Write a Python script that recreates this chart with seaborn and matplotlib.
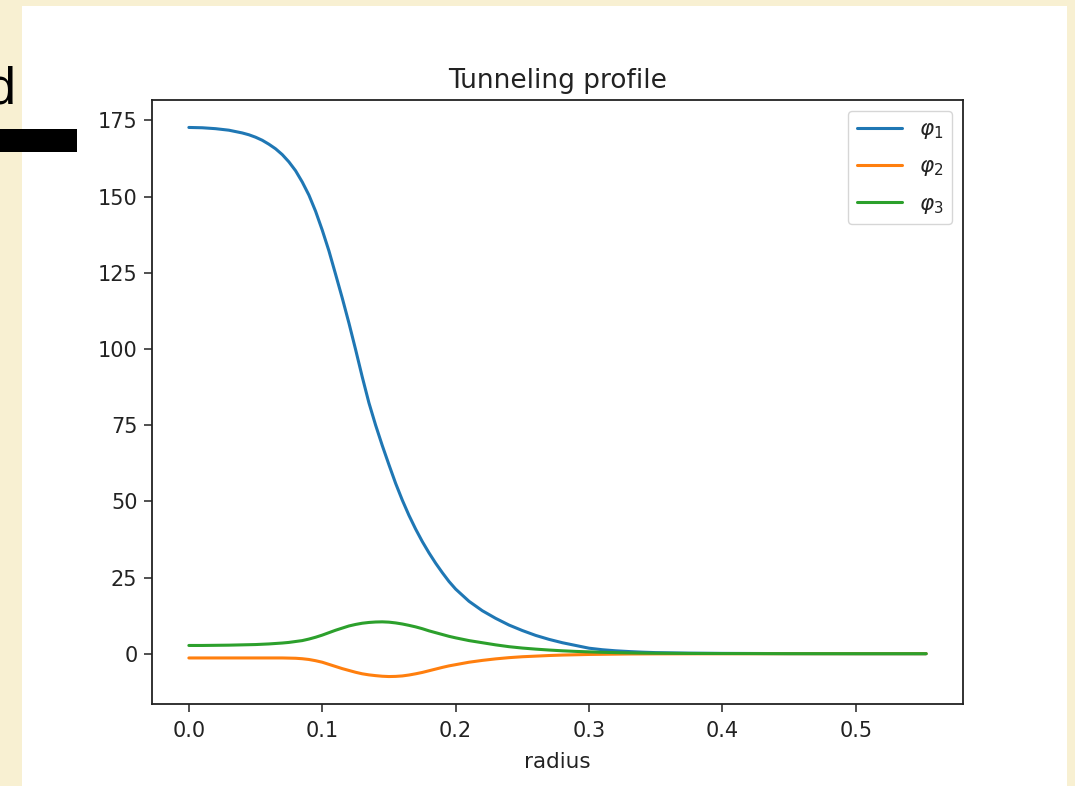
import numpy as np
import pandas as pd
import matplotlib
matplotlib.use("Agg")
import matplotlib.pyplot as plt
from matplotlib.patches import Rectangle
import seaborn as sns

# Radial grid and field profiles of the tunneling solution
radius = [0.00, 0.01, 0.02, 0.03, 0.04,
          0.045, 0.05, 0.055, 0.06, 0.065, 0.07, 0.075, 0.08, 0.085, 0.09,
          0.095, 0.10, 0.105, 0.11, 0.115, 0.12, 0.125, 0.13, 0.135, 0.14,
          0.145, 0.15, 0.155, 0.16, 0.165, 0.17, 0.175, 0.18, 0.185, 0.19, 0.195,
          0.20, 0.21, 0.22, 0.23, 0.24, 0.25, 0.26, 0.27, 0.28, 0.29,
          0.30, 0.31, 0.32, 0.33, 0.34, 0.35,
          0.375, 0.40, 0.45, 0.50, 0.55, 0.5527]

phi1 = [172.7, 172.6, 172.3, 171.8, 170.9,
        170.3, 169.5, 168.5, 167.2, 165.7, 163.8, 161.4, 158.5, 154.8, 150.5,
        145.2, 139.0, 132.2, 124.5, 116.7, 108.5, 99.8, 90.8, 82.3, 75.0,
        68.3, 62.0, 55.9, 50.4, 45.4, 40.9, 36.8, 33.1, 29.7, 26.6, 23.7,
        21.2, 17.2, 14.1, 11.6, 9.4, 7.6, 6.0, 4.7, 3.6, 2.7,
        1.8, 1.3, 0.95, 0.7, 0.5, 0.35,
        0.18, 0.1, 0.03, 0.01, 0.0, 0.0]

phi2 = [-1.4, -1.4, -1.4, -1.4, -1.4,
        -1.4, -1.4, -1.4, -1.4, -1.4, -1.4, -1.45, -1.5, -1.65, -1.9,
        -2.3, -2.8, -3.5, -4.2, -4.9, -5.5, -6.1, -6.6, -6.95, -7.2,
        -7.4, -7.5, -7.45, -7.3, -7.0, -6.6, -6.15, -5.6, -5.05, -4.5, -4.0,
        -3.6, -2.8, -2.2, -1.7, -1.3, -1.0, -0.8, -0.6, -0.45, -0.35,
        -0.25, -0.2, -0.15, -0.1, -0.08, -0.06,
        -0.04, -0.02, 0.0, 0.0, 0.0, 0.0]

phi3 = [2.7, 2.7, 2.75, 2.8, 2.9,
        2.95, 3.0, 3.1, 3.2, 3.35, 3.5, 3.7, 4.0, 4.3, 4.8,
        5.4, 6.1, 6.9, 7.7, 8.4, 9.1, 9.6, 10.0, 10.25, 10.4,
        10.45, 10.35, 10.1, 9.75, 9.3, 8.8, 8.2, 7.5, 6.9, 6.3, 5.7,
        5.2, 4.3, 3.6, 2.9, 2.3, 1.85, 1.5, 1.2, 0.95, 0.75,
        0.6, 0.45, 0.35, 0.27, 0.2, 0.15,
        0.08, 0.05, 0.01, 0.0, 0.0, 0.0]

labels = [r"$\varphi_1$", r"$\varphi_2$", r"$\varphi_3$"]
title = "Tunneling profile"
xlabel = "radius"

df = pd.concat([
    pd.DataFrame({"radius": radius, "value": vals, "field": lab})
    for vals, lab in zip([phi1, phi2, phi3], labels)
], ignore_index=True)

sns.set_theme(style="ticks")
plt.rcParams.update({
    "font.family": ["DejaVu Sans"],
    "axes.edgecolor": "#222222",
    "axes.linewidth": 1.3,
    "xtick.major.size": 5.5,
    "ytick.major.size": 5.5,
    "xtick.major.width": 1.1,
    "ytick.major.width": 1.1,
    "xtick.major.pad": 7,
    "ytick.major.pad": 5,
    "xtick.color": "#222222",
    "ytick.color": "#222222",
    "text.color": "#222222",
    "axes.labelcolor": "#222222",
})

W, H = 1075, 786
fig = plt.figure(figsize=(W / 100, H / 100), dpi=100, facecolor="#f8f0d2")

# White slide area behind the plot
fig.patches.append(Rectangle((22 / W, 0), (1067 - 22) / W, (786 - 6) / H,
                             transform=fig.transFigure, facecolor="white",
                             edgecolor="none", zorder=-2))
# Fragment of slide heading and its underline bar
fig.text(15.5 / W, (786 - 103) / H, "d", fontsize=37.5, ha="right", va="baseline",
         family="Liberation Sans", color="black", zorder=1)
fig.patches.append(Rectangle((0, (786 - 152) / H), 77 / W, 23 / H,
                             transform=fig.transFigure, facecolor="black",
                             edgecolor="none", zorder=1))

ax = fig.add_axes([152 / W, (786 - 704) / H, (963 - 152) / W, (704 - 100) / H])
ax.set_zorder(2)
ax.set_facecolor("white")

palette = ["#1f77b4", "#ff7f0e", "#2ca02c"]
sns.lineplot(data=df, x="radius", y="value", hue="field", hue_order=labels,
             palette=palette, linewidth=2.2, errorbar=None, ax=ax)

ax.set_title(title, fontsize=19, pad=9)
ax.set_xlabel(xlabel, fontsize=15.5, labelpad=8)
ax.set_ylabel("")
ax.set_xticks([0.0, 0.1, 0.2, 0.3, 0.4, 0.5])
ax.set_yticks([0, 25, 50, 75, 100, 125, 150, 175])
ax.tick_params(labelsize=15)
ax.margins(x=0.05, y=0.05)

leg = ax.legend(loc="upper right", fontsize=15.5, frameon=True,
                handlelength=2.1, labelspacing=0.7, borderaxespad=0.5)
leg.get_frame().set_edgecolor("#cccccc")
for line in leg.get_lines():
    line.set_linewidth(2.2)

fig.savefig("out.png", dpi=100, facecolor=fig.get_facecolor())
